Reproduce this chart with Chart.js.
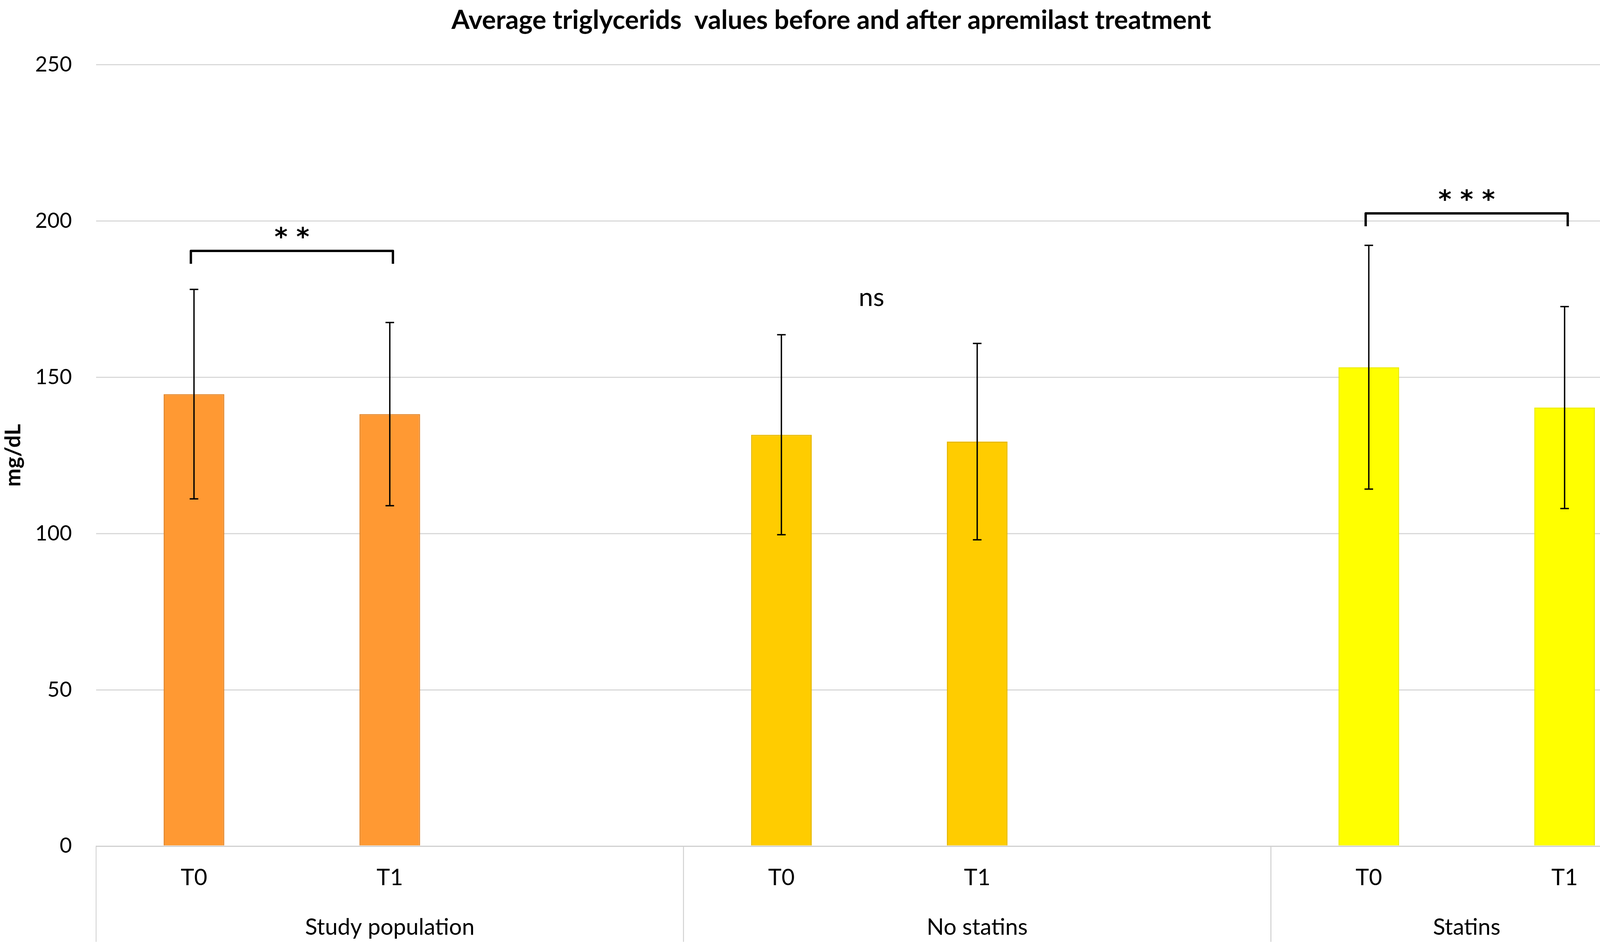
<!DOCTYPE html>
<html>
<head>
<meta charset="utf-8">
<script src="https://cdn.jsdelivr.net/npm/chart.js@4"></script>
<style>
  html, body { margin: 0; padding: 0; background: #ffffff; }
  #wrap { width: 4279px; height: 2436px; position: relative; }
</style>
</head>
<body>
<div id="wrap"><canvas id="tgChart"></canvas></div>
<script>
// ── data ─────────────────────────────────────────
const labels    = ['T0', 'T1', '', 'T0', 'T1', '', 'T0', 'T1'];
const groups    = ['Study population', 'No statins', 'Statins'];
const groupSpan = [[0, 2], [3, 5], [6, 7]];          // first / last slot index of each group
const means     = [144.6, 138.2, null, 131.6, 129.4, null, 153.2, 140.3];
const sdErr     = [33.5, 29.3, null, 32.0, 31.4, null, 39.0, 32.3];
const barColors = ['#FF9933', '#FF9933', null, '#FFCC00', '#FFCC00', null, '#FFFF00', '#FFFF00'];
const barEdges  = ['#E5892E', '#E5892E', null, '#E8B900', '#E8B900', null, '#EDED00', '#EDED00'];
const yTicks    = [0, 50, 100, 150, 200, 250];

// significance marks: [from slot, to slot, bracket y, text y, text]
const sigMarks  = [
    [0, 1, 190.4, 196.0, '**'],
    [6, 7, 202.4, 208.0, '***']
];
const nsMark    = [3, 4, 175.5, 'ns'];

const FONT = 'Lato, "Open Sans", sans-serif';

// ── error bars + brackets + group axis ───────────
const extras = {
    id: 'extras',
    afterDatasetsDraw(chart) {
        const { ctx, scales: { x, y } } = chart;
        ctx.save();

        // error bars
        ctx.strokeStyle = '#000';
        ctx.lineWidth = 3.5;
        means.forEach((m, i) => {
            if (m === null) return;
            const cx = x.getPixelForValue(i);
            const yt = y.getPixelForValue(m + sdErr[i]);
            const yb = y.getPixelForValue(m - sdErr[i]);
            ctx.beginPath();
            ctx.moveTo(cx, yt); ctx.lineTo(cx, yb);
            ctx.moveTo(cx - 11, yt); ctx.lineTo(cx + 11, yt);
            ctx.moveTo(cx - 11, yb); ctx.lineTo(cx + 11, yb);
            ctx.stroke();
        });

        // brackets with stars
        ctx.lineWidth = 6;
        ctx.lineJoin = 'round';
        ctx.fillStyle = '#000';
        ctx.textAlign = 'center';
        ctx.textBaseline = 'middle';
        sigMarks.forEach(([a, b, yv, ty, txt]) => {
            const x1 = x.getPixelForValue(a) - 8;
            const x2 = x.getPixelForValue(b) + 8;
            const yy = y.getPixelForValue(yv);
            ctx.beginPath();
            ctx.moveTo(x1, yy + 33);
            ctx.lineTo(x1, yy);
            ctx.lineTo(x2, yy);
            ctx.lineTo(x2, yy + 33);
            ctx.stroke();
            ctx.font = 'bold 64px "DejaVu Sans", sans-serif';
            ctx.fillText(txt.split('').join(' '), (x1 + x2) / 2, y.getPixelForValue(ty) + 14);
        });
        ctx.font = '66px ' + FONT;
        ctx.fillText(nsMark[3], (x.getPixelForValue(nsMark[0]) + x.getPixelForValue(nsMark[1])) / 2 - 20,
                     y.getPixelForValue(nsMark[2]));

        // group labels and separators under the axis
        const half = (x.getPixelForValue(1) - x.getPixelForValue(0)) / 2;
        const yAxis = y.getPixelForValue(0);
        ctx.strokeStyle = '#D0D0D0';
        ctx.lineWidth = 2;
        ctx.font = '58px ' + FONT;
        ctx.fillStyle = '#000';
        groupSpan.forEach(([s, e], gi) => {
            const left = x.getPixelForValue(s) - half;
            const right = x.getPixelForValue(e) + half;
            ctx.beginPath();
            ctx.moveTo(left, yAxis); ctx.lineTo(left, yAxis + 245);
            ctx.moveTo(right, yAxis); ctx.lineTo(right, yAxis + 245);
            ctx.stroke();
            ctx.fillText(groups[gi], (left + right) / 2, yAxis + 208);
        });
        ctx.restore();
    }
};

new Chart(document.getElementById('tgChart'), {
    type: 'bar',
    data: {
        labels: labels,
        datasets: [{
            data: means,
            backgroundColor: barColors,
            borderColor: barEdges,
            borderWidth: 3,
            barPercentage: 0.31,
            categoryPercentage: 1.0
        }]
    },
    options: {
        responsive: true,
        maintainAspectRatio: false,
        devicePixelRatio: 1,
        animation: false,
        layout: { padding: { left: 0, right: 23, top: 0, bottom: 0 } },
        plugins: {
            legend: { display: false },
            tooltip: { enabled: false },
            title: {
                display: true,
                text: 'Average triglycerids  values before and after apremilast treatment',
                color: '#000',
                font: { family: FONT, size: 67, weight: 'bold' },
                padding: { top: 12, bottom: 73 }
            }
        },
        scales: {
            y: {
                min: 0, max: 250,
                afterBuildTicks: s => { s.ticks = yTicks.map(v => ({ value: v })); },
                afterFit: s => { s.width = 246; },
                grid: { color: '#D9D9D9', lineWidth: 3, drawTicks: false },
                border: { display: false },
                ticks: { color: '#000', padding: 62, font: { family: FONT, size: 54 } },
                title: {
                    display: true, text: 'mg/dL', color: '#000',
                    font: { family: FONT, size: 56, weight: 'bold' },
                    padding: 0
                }
            },
            x: {
                afterFit: s => { s.height = 271; },
                grid: { display: false, drawTicks: false },
                border: { display: true, color: '#D0D0D0', width: 3 },
                ticks: { color: '#000', padding: 46, maxRotation: 0, autoSkip: false,
                         font: { family: FONT, size: 58 } }
            }
        }
    },
    plugins: [extras]
});
</script>
</body>
</html>
